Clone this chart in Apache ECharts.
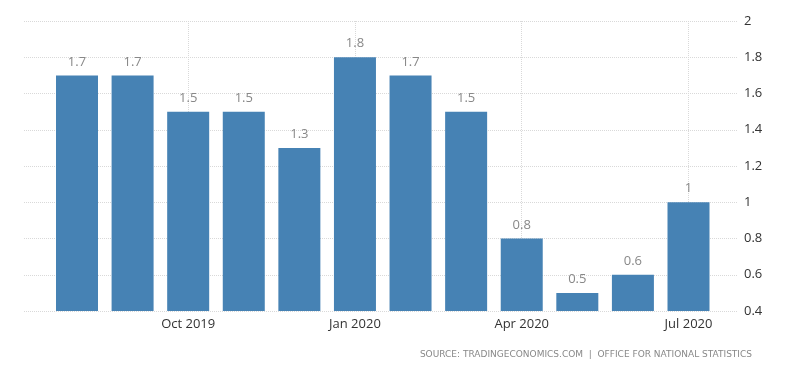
<!DOCTYPE html>
<html>
<head>
<meta charset="utf-8">
<script src="https://cdn.jsdelivr.net/npm/echarts@6/dist/echarts.min.js"></script>
<style>html,body{margin:0;padding:0;background:#fff;}#c{width:800px;height:373px;}</style>
</head>
<body>
<div id="c"></div>
<script>
var categories = ['Aug 2019','Sep 2019','Oct 2019','Nov 2019','Dec 2019','Jan 2020','Feb 2020','Mar 2020','Apr 2020','May 2020','Jun 2020','Jul 2020'];
var values = [1.7, 1.7, 1.5, 1.5, 1.3, 1.8, 1.7, 1.5, 0.8, 0.5, 0.6, 1];
var yTicks = { min: 0.4, max: 2, interval: 0.2 };
var sourceText = 'SOURCE: TRADINGECONOMICS.COM  |  OFFICE FOR NATIONAL STATISTICS';

var showIdx = function (i) { return i % 3 === 2; };
var chart = echarts.init(document.getElementById('c'));
chart.setOption({
  animation: false,
  textStyle: { fontFamily: 'Open Sans' },
  grid: [
    { left: 24, right: 63, top: 21, bottom: 62 },
    { left: 77, right: 111.5, top: 21, bottom: 62 }
  ],
  xAxis: [
    { gridIndex: 0, type: 'value', show: false },
    {
      gridIndex: 1, type: 'category', data: categories, boundaryGap: false,
      axisLine: { show: false }, axisTick: { show: false },
      axisLabel: { interval: function (i) { return showIdx(i); }, color: '#333', fontSize: 13, margin: 7 },
      splitLine: { show: true, interval: function (i) { return showIdx(i); }, lineStyle: { color: '#d9d9d9', type: 'dotted', width: 1 } }
    }
  ],
  yAxis: [
    {
      gridIndex: 0, type: 'value', position: 'right', min: yTicks.min, max: yTicks.max, interval: yTicks.interval,
      axisLine: { show: false }, axisTick: { show: false },
      axisLabel: { color: '#333', fontSize: 13, margin: 7 },
      splitLine: { lineStyle: { color: '#d9d9d9', type: 'dotted', width: 1 } }
    },
    {
      gridIndex: 1, type: 'value', min: yTicks.min, max: yTicks.max, interval: yTicks.interval,
      show: false, splitLine: { show: false }
    }
  ],
  series: [{
    type: 'bar', xAxisIndex: 1, yAxisIndex: 1, data: values, barWidth: 42,
    itemStyle: { color: '#4682b4' },
    label: { show: true, position: 'top', distance: 7, color: '#888', fontSize: 13 }
  }],
  graphic: [{
    type: 'text', right: 48, top: 350,
    style: { text: sourceText, fill: '#888', font: '9px "DejaVu Sans"' }
  }]
});
</script>
</body>
</html>
